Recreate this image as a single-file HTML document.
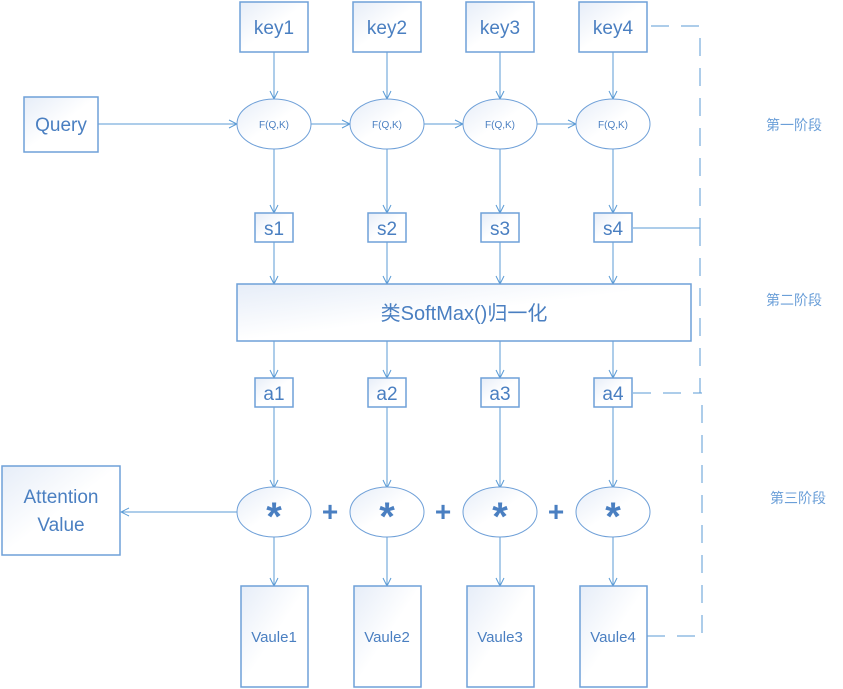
<!DOCTYPE html>
<html><head><meta charset="utf-8"><style>
html,body{margin:0;padding:0;background:#fff;}
svg{display:block;}
text{font-family:"Liberation Sans","Noto Sans CJK SC",sans-serif;fill:#4a7fc1;}
</style></head><body>
<svg width="843" height="689" viewBox="0 0 843 689" xmlns="http://www.w3.org/2000/svg">
<defs>
<linearGradient id="g" x1="0" y1="0" x2="1" y2="1">
<stop offset="0" stop-color="#e6edf8"/><stop offset="0.5" stop-color="#ffffff"/><stop offset="1" stop-color="#ffffff"/>
</linearGradient>
<marker id="a" markerWidth="10" markerHeight="10" refX="9" refY="5" orient="auto" markerUnits="userSpaceOnUse">
<path d="M1,1 L9,5 L1,9" fill="none" stroke="#5b9bd5" stroke-width="1"/>
</marker>
</defs>
<g stroke="#5b9bd5" stroke-width="1" fill="none">
<g stroke-dasharray="18,12">
<line x1="651" y1="26" x2="700" y2="26"/>
<line x1="700" y1="38" x2="700" y2="228"/>
<line x1="633" y1="393" x2="702" y2="393"/>
<line x1="702" y1="405" x2="702" y2="635"/>
<line x1="647" y1="636" x2="702" y2="636"/>
<line x1="700" y1="228" x2="700" y2="393"/>
</g>
<polyline points="633,228 700,228 700,240"/>
<line x1="98" y1="124" x2="237" y2="124" marker-end="url(#a)"/>
<line x1="311" y1="124" x2="350" y2="124" marker-end="url(#a)"/>
<line x1="424" y1="124" x2="463" y2="124" marker-end="url(#a)"/>
<line x1="537" y1="124" x2="576" y2="124" marker-end="url(#a)"/>
<line x1="237" y1="512" x2="121" y2="512" marker-end="url(#a)"/>
<g id="col">
<line x1="274" y1="52" x2="274" y2="99" marker-end="url(#a)"/>
<line x1="274" y1="149" x2="274" y2="213" marker-end="url(#a)"/>
<line x1="274" y1="242" x2="274" y2="284" marker-end="url(#a)"/>
<line x1="274" y1="341" x2="274" y2="378" marker-end="url(#a)"/>
<line x1="274" y1="407" x2="274" y2="488" marker-end="url(#a)"/>
<line x1="274" y1="537" x2="274" y2="586" marker-end="url(#a)"/>
</g>
<use href="#col" x="113"/><use href="#col" x="226"/><use href="#col" x="339"/>
</g>
<g stroke="#6fa0d8" stroke-width="1.5" fill="url(#g)">
<rect x="24" y="97" width="74" height="55"/>
<rect x="2" y="466" width="118" height="89"/>
<rect x="237" y="284" width="454" height="57"/>
<g id="boxes">
<rect x="240" y="2" width="68" height="50"/>
<ellipse cx="274" cy="124" rx="37" ry="25" stroke-width="1"/>
<rect x="255" y="213" width="38" height="29"/>
<rect x="255" y="378" width="38" height="29"/>
<ellipse cx="274" cy="512" rx="37" ry="25" stroke-width="1"/>
<rect x="241" y="586" width="67" height="101"/>
</g>
<use href="#boxes" x="113"/><use href="#boxes" x="226"/><use href="#boxes" x="339"/>
</g>
<g text-anchor="middle">
<text x="61" y="131" font-size="19">Query</text>
<text x="61" y="503" font-size="19">Attention</text>
<text x="61" y="531" font-size="19">Value</text>
<text x="464" y="320" font-size="20">类SoftMax()归一化</text>
<text x="274" y="34" font-size="19">key1</text><text x="387" y="34" font-size="19">key2</text><text x="500" y="34" font-size="19">key3</text><text x="613" y="34" font-size="19">key4</text>
<text x="274" y="128" font-size="10">F(Q,K)</text><text x="387" y="128" font-size="10">F(Q,K)</text><text x="500" y="128" font-size="10">F(Q,K)</text><text x="613" y="128" font-size="10">F(Q,K)</text>
<text x="274" y="235" font-size="19">s1</text><text x="387" y="235" font-size="19">s2</text><text x="500" y="235" font-size="19">s3</text><text x="613" y="235" font-size="19">s4</text>
<text x="274" y="400" font-size="19">a1</text><text x="387" y="400" font-size="19">a2</text><text x="500" y="400" font-size="19">a3</text><text x="613" y="400" font-size="19">a4</text>
<text x="274" y="530" font-size="40" font-weight="bold">*</text><text x="387" y="530" font-size="40" font-weight="bold">*</text><text x="500" y="530" font-size="40" font-weight="bold">*</text><text x="613" y="530" font-size="40" font-weight="bold">*</text>
<text x="330" y="521" font-size="28" font-weight="bold">+</text><text x="443" y="521" font-size="28" font-weight="bold">+</text><text x="556" y="521" font-size="28" font-weight="bold">+</text>
<text x="274" y="642" font-size="15">Vaule1</text><text x="387" y="642" font-size="15">Vaule2</text><text x="500" y="642" font-size="15">Vaule3</text><text x="613" y="642" font-size="15">Vaule4</text>
</g>
<g style="fill:#6b9fd8">
<text x="766" y="130" font-size="14" style="fill:#6b9fd8">第一阶段</text>
<text x="766" y="305" font-size="14" style="fill:#6b9fd8">第二阶段</text>
<text x="770" y="503" font-size="14" style="fill:#6b9fd8">第三阶段</text>
</g>
</svg>
</body></html>
